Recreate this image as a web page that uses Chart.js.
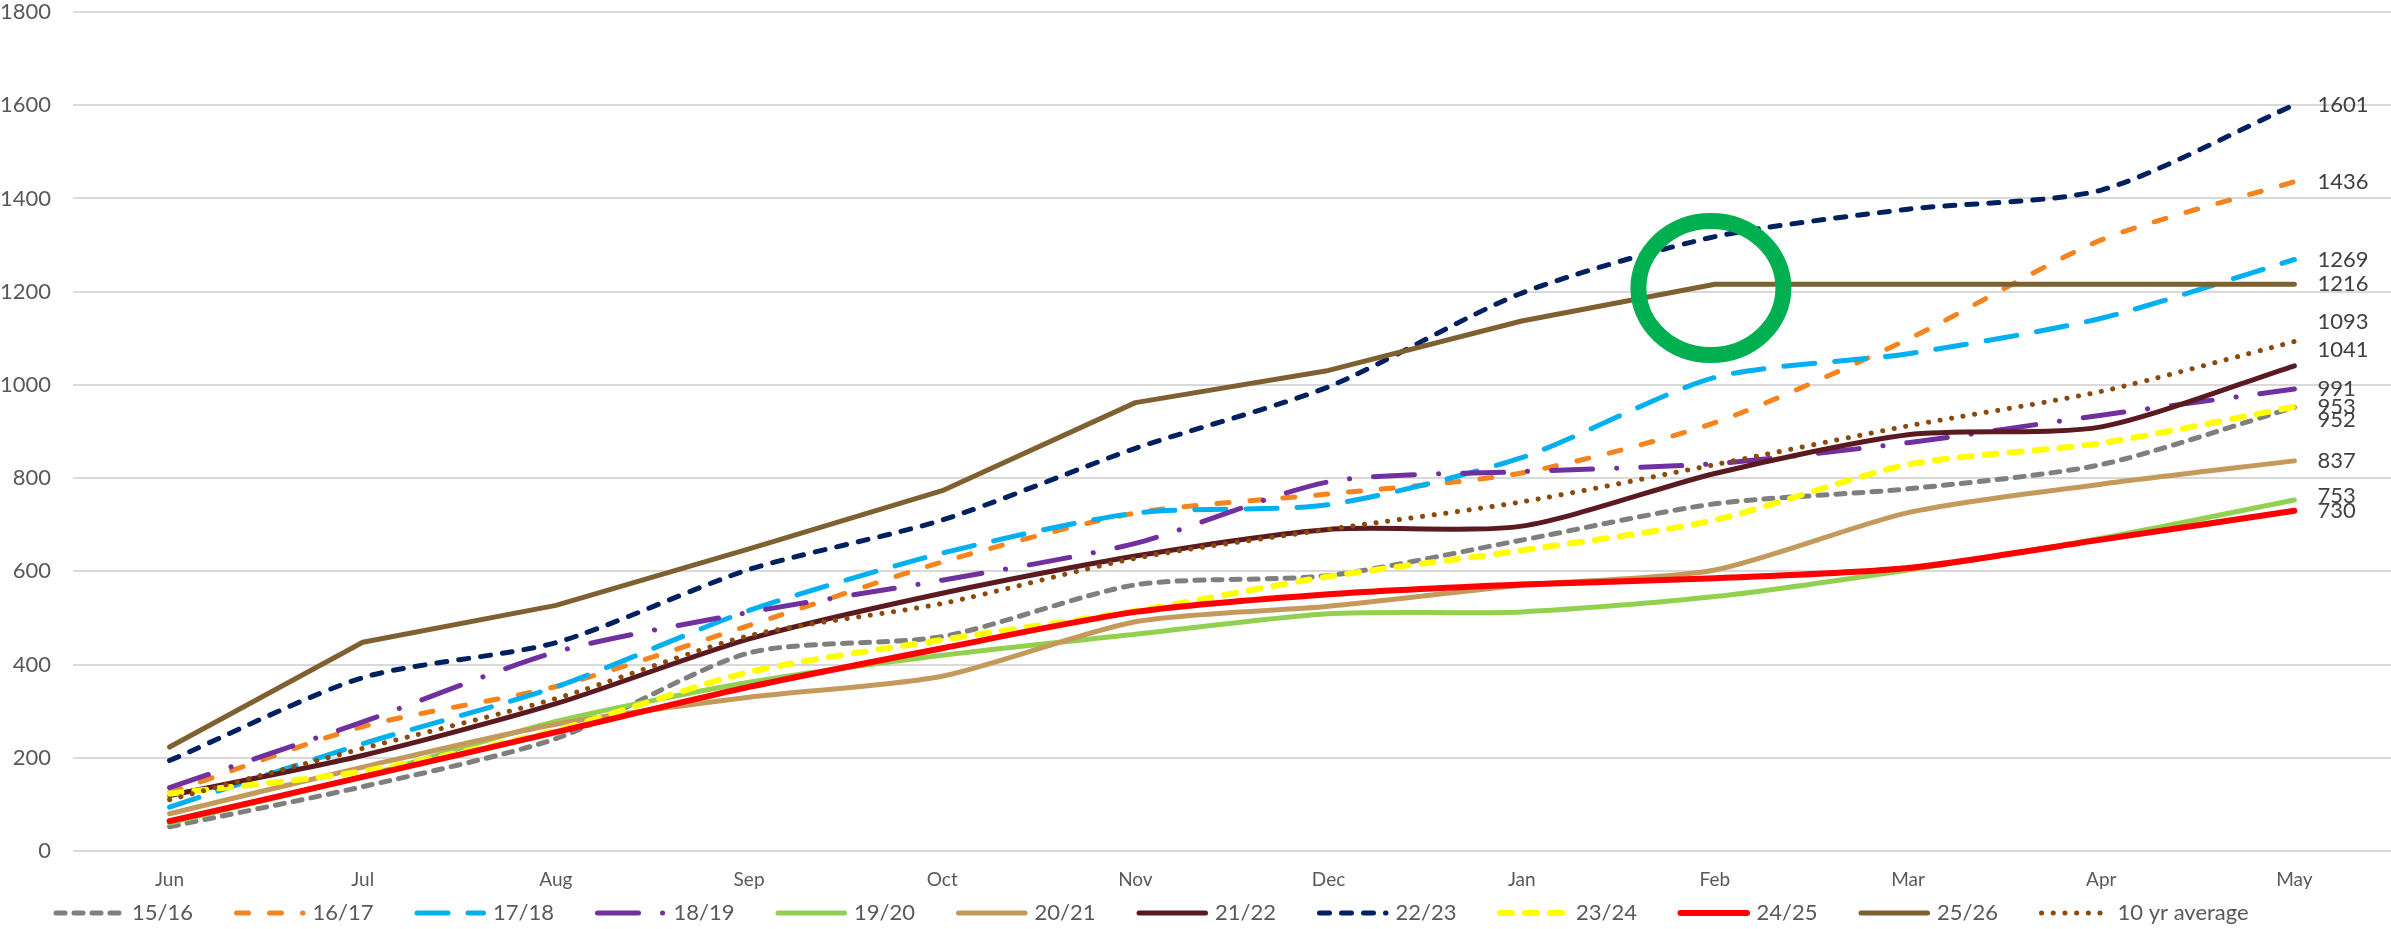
<!DOCTYPE html>
<html lang="en">
<head>
    <meta charset="utf-8">
    <title>Cumulative by month</title>
    <script src="https://cdn.jsdelivr.net/npm/chart.js@4.4.1/dist/chart.umd.min.js"></script>
    <style>
        html, body {
            margin: 0;
            padding: 0;
            background: #ffffff;
        }
        #container {
            width: 2391px;
            height: 929px;
            position: relative;
        }
    </style>
</head>
<body>
    <div id="container">
        <canvas id="chart"></canvas>
    </div>
    <script>
        const months = ['Jun', 'Jul', 'Aug', 'Sep', 'Oct', 'Nov', 'Dec', 'Jan', 'Feb', 'Mar', 'Apr', 'May'];
        const yTicks = [0, 200, 400, 600, 800, 1000, 1200, 1400, 1600, 1800];

        const s1516 = [52, 138, 241, 425, 460, 571, 591, 667, 745, 777, 829, 952];
        const s1617 = [125, 267, 353, 484, 620, 725, 766, 811, 919, 1098, 1311, 1436];
        const s1718 = [94, 230, 352, 516, 639, 725, 743, 844, 1016, 1067, 1143, 1269];
        const s1819 = [136, 277, 427, 512, 581, 660, 792, 814, 831, 876, 935, 991];
        const s1920 = [60, 160, 278, 362, 420, 465, 509, 513, 546, 603, 671, 753];
        const s2021 = [80, 180, 272, 330, 375, 492, 525, 570, 603, 726, 787, 837];
        const s2122 = [119, 205, 316, 455, 553, 633, 690, 697, 810, 893, 910, 1041];
        const s2223 = [194, 372, 447, 604, 710, 864, 996, 1197, 1318, 1377, 1418, 1601];
        const s2324 = [123, 171, 259, 384, 453, 515, 589, 645, 710, 829, 875, 953];
        const s2425 = [64, 159, 255, 352, 435, 513, 551, 572, 585, 607, 668, 730];
        const s2526 = [223, 448, 527, 648, 773, 962, 1031, 1137, 1216, 1216, 1216, 1216];
        const avg10 = [110, 220, 327, 462, 531, 628, 690, 749, 829, 912, 986, 1093];

        // highlighted point (Feb, where 25/26 goes flat)
        const ringMonth = 'Feb';
        const ringValue = 1208;

        const FONT = 'Lato, "Open Sans", sans-serif';
        const TEXT = '#595959';

        // small vertical shifts so end labels don't sit on top of each other (px)
        const labelNudge = { '10 yr average': -20, '21/22': -16, '15/16': 13, '19/20': -4 };

        function series(label, data, color, width, dash, tension) {
            return {
                label: label,
                data: data,
                borderColor: color,
                backgroundColor: color,
                borderWidth: width,
                borderDash: dash,
                borderCapStyle: 'round',
                borderJoinStyle: 'round',
                tension: tension === undefined ? 0.25 : tension,
                pointRadius: 0,
                fill: false
            };
        }

        const datasets = [
            series('15/16', s1516, '#7f7f7f', 5, [9, 9]),
            series('16/17', s1617, '#f5841f', 5, [12, 21]),
            series('17/18', s1718, '#00b0f0', 5, [31, 20]),
            series('18/19', s1819, '#7030a0', 5, [41, 24, 0.1, 24]),
            series('19/20', s1920, '#92d050', 5, []),
            series('20/21', s2021, '#c49a5c', 5, []),
            series('21/22', s2122, '#5b1a1f', 5, []),
            series('22/23', s2223, '#002060', 5, [10, 12]),
            series('23/24', s2324, '#ffff00', 6, [12, 13]),
            series('24/25', s2425, '#ff0000', 6, []),
            series('25/26', s2526, '#7f6030', 5, [], 0),
            series('10 yr average', avg10, '#8b4a0b', 5, [0.1, 11.6])
        ];
        // later seasons drawn on top
        datasets.forEach((d, i) => { d.order = datasets.length - i; });

        const endLabels = {
            id: 'endLabels',
            afterDatasetsDraw(chart) {
                const ctx = chart.ctx;
                ctx.save();
                ctx.font = '22px ' + FONT;
                ctx.fillStyle = '#404040';
                ctx.textBaseline = 'middle';
                ctx.textAlign = 'left';
                chart.data.datasets.forEach((ds, i) => {
                    const meta = chart.getDatasetMeta(i);
                    const last = meta.data[meta.data.length - 1];
                    const v = ds.data[ds.data.length - 1];
                    ctx.fillText(String(v), last.x + 23, last.y + (labelNudge[ds.label] || 0));
                });
                ctx.restore();
            }
        };

        const ring = {
            id: 'ring',
            afterDatasetsDraw(chart) {
                const ctx = chart.ctx;
                const x = chart.scales.x.getPixelForValue(months.indexOf(ringMonth)) - 4;
                const y = chart.scales.y.getPixelForValue(ringValue);
                ctx.save();
                ctx.beginPath();
                ctx.ellipse(x, y, 72.5, 67, 0, 0, Math.PI * 2);
                ctx.lineWidth = 16;
                ctx.strokeStyle = '#00b050';
                ctx.stroke();
                ctx.restore();
            }
        };

        // legend drawn by hand so the dash patterns show in the samples
        const bottomLegend = {
            id: 'bottomLegend',
            afterDraw(chart) {
                const ctx = chart.ctx;
                const slot = 180.5;
                const y = chart.height - 16;
                let x = 53;
                ctx.save();
                ctx.font = '22px ' + FONT;
                ctx.fillStyle = TEXT;
                ctx.textBaseline = 'middle';
                ctx.textAlign = 'left';
                chart.data.datasets.forEach((ds) => {
                    ctx.beginPath();
                    ctx.setLineDash(ds.borderDash || []);
                    ctx.lineCap = 'round';
                    ctx.lineWidth = ds.borderWidth;
                    ctx.strokeStyle = ds.borderColor;
                    ctx.moveTo(x + 3, y);
                    ctx.lineTo(x + 69.5, y);
                    ctx.stroke();
                    ctx.fillText(ds.label, x + 79, y);
                    x += slot;
                });
                ctx.restore();
            }
        };

        new Chart(document.getElementById('chart'), {
            type: 'line',
            data: { labels: months, datasets: datasets },
            plugins: [endLabels, ring, bottomLegend],
            options: {
                responsive: true,
                maintainAspectRatio: false,
                animation: false,
                layout: { padding: { top: 0, right: 0, bottom: 38, left: 0 } },
                plugins: {
                    legend: { display: false },
                    tooltip: { enabled: false }
                },
                scales: {
                    x: {
                        offset: true,
                        grid: { display: false, drawTicks: false },
                        border: { display: false },
                        ticks: {
                            color: TEXT,
                            font: { family: FONT, size: 19 },
                            padding: 17,
                            maxRotation: 0,
                            autoSkip: false
                        },
                        afterFit: (axis) => {
                            axis.height = 40;
                            axis.paddingLeft = 0;
                            axis.paddingRight = 0;
                        }
                    },
                    y: {
                        min: yTicks[0],
                        max: yTicks[yTicks.length - 1],
                        afterBuildTicks: (axis) => { axis.ticks = yTicks.map(v => ({ value: v })); },
                        grid: { color: '#d9d9d9', lineWidth: 2, drawTicks: false },
                        border: { display: false },
                        ticks: {
                            color: TEXT,
                            font: { family: FONT, size: 22 },
                            padding: 22,
                            callback: (v) => String(v)
                        },
                        afterFit: (axis) => {
                            axis.width = 73;
                            axis.paddingTop = 12;
                            axis.paddingBottom = 0;
                        }
                    }
                }
            }
        });
    </script>
</body>
</html>
